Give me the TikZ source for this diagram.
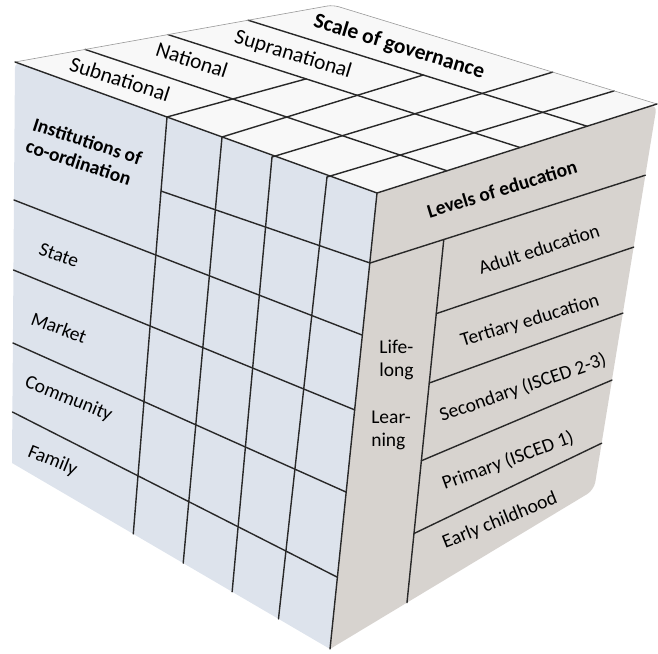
\documentclass[tikz,border=0pt]{standalone}
\usepackage{fontspec}
\setmainfont{Carlito}
\definecolor{frontface}{RGB}{221,227,236}
\definecolor{topface}{RGB}{248,248,248}
\definecolor{sideface}{RGB}{215,211,207}
\definecolor{gridline}{RGB}{40,40,40}
\begin{document}
\begin{tikzpicture}[x=1pt,y=-1pt,
  grid/.style={draw=gridline,line width=1.4pt,line cap=round},
  rim/.style={draw=black!40,line width=0.6pt},
  lab/.style={inner sep=0pt,font=\fontsize{19.5}{23}\selectfont},
  labbf/.style={inner sep=0pt,font=\fontsize{19.5}{23}\selectfont\bfseries},
  toplab/.style={inner sep=0pt,font=\fontsize{21.5}{24}\selectfont},
]
\useasboundingbox (0,0) rectangle (658,653);

% ---- cube corners ----
\coordinate (A) at (15,62);    % front face, top left
\coordinate (B) at (377,193);  % corner shared by the three faces
\coordinate (C) at (657,104);  % right face, top right
\coordinate (D) at (333,5);    % back corner of the top face
\coordinate (E) at (330,649);  % front/right bottom
\coordinate (F) at (12,463);   % front face, bottom left
\coordinate (G) at (594,490);  % right face, bottom right

% ---- faces ----
\fill[frontface] (B) -- (E) -- (F) [rounded corners=6pt] -- (A) [sharp corners] -- cycle;
\fill[sideface] (B) [rounded corners=8pt] -- (C) -- (G) [sharp corners] -- (E) -- cycle;
\fill[topface] (B) -- (A) [rounded corners=6pt] -- (D) -- (C) [sharp corners] -- cycle;

% ---- front face grid: institutions x scale ----
\coordinate (P1) at (167,117); \coordinate (fbA) at (133,537);
\coordinate (P2) at (222,137); \coordinate (fbB) at (183,565);
\coordinate (P3) at (272,157); \coordinate (fbC) at (232,593);
\coordinate (P4) at (327,177); \coordinate (fbD) at (278,623);
\draw[grid] (P1) -- (intersection of P1--fbA and F--E);
\draw[grid] (P2) -- (intersection of P2--fbB and F--E);
\draw[grid] (P3) -- (intersection of P3--fbC and F--E);
\draw[grid] (P4) -- (intersection of P4--fbD and F--E);

\coordinate (lA) at (14,200);   \coordinate (rA) at (362,335);
\coordinate (lB) at (13.5,270); \coordinate (rB) at (355,410);
\coordinate (lC) at (13,343);   \coordinate (rC) at (346,492);
\coordinate (lD) at (12.5,412); \coordinate (rD) at (337,577);
\draw[grid] (intersection of lA--rA and A--F) -- (intersection of lA--rA and B--E);
\draw[grid] (intersection of lB--rB and A--F) -- (intersection of lB--rB and B--E);
\draw[grid] (intersection of lC--rC and A--F) -- (intersection of lC--rC and B--E);
\draw[grid] (intersection of lD--rD and A--F) -- (intersection of lD--rD and B--E);
% split of the top row in the scale columns
\coordinate (mb) at (187,200); \coordinate (rb) at (370,263);
\draw[grid] (intersection of mb--rb and P1--fbA) -- (intersection of mb--rb and B--E);

% ---- top face grid ----
\coordinate (a1) at (85,49.4);  \coordinate (b1) at (447,170.8);
\coordinate (a2) at (168,34.6); \coordinate (b2) at (520,147.5);
\coordinate (a3) at (248,20.2); \coordinate (b3) at (587,126.2);
\draw[grid] (a1) -- (b1);
\draw[grid] (a2) -- (b2);
\draw[grid] (a3) -- (b3);
\coordinate (t1) at (302,80);
\coordinate (t2) at (420,76);
\coordinate (t3) at (553,72);
\coordinate (t4) at (617,90);
\draw[grid] (P1) -- (intersection of P1--t1 and a2--b2);
\draw[grid] (P2) -- (intersection of P2--t2 and a3--b3);
\draw[grid] (P3) -- (intersection of P3--t3 and D--C);
\draw[grid] (P4) -- (intersection of P4--t4 and D--C);

% ---- right face grid: levels of education ----
\coordinate (sa0) at (370,263); \coordinate (sb0) at (646,175);
\coordinate (llA) at (443,247); \coordinate (llB) at (407,602);
\draw[grid] (intersection of sa0--sb0 and B--E) -- (intersection of sa0--sb0 and C--G);
\draw[grid] (intersection of llA--llB and sa0--sb0) -- (intersection of llA--llB and E--G);
\coordinate (saA) at (438,313); \coordinate (sbA) at (634,247);
\coordinate (saB) at (432,382); \coordinate (sbB) at (623,313);
\coordinate (saC) at (423,460); \coordinate (sbC) at (612,380);
\coordinate (saD) at (415,533); \coordinate (sbD) at (602,443);
\draw[grid] (intersection of saA--sbA and llA--llB) -- (intersection of saA--sbA and C--G);
\draw[grid] (intersection of saB--sbB and llA--llB) -- (intersection of saB--sbB and C--G);
\draw[grid] (intersection of saC--sbC and llA--llB) -- (intersection of saC--sbC and C--G);
\draw[grid] (intersection of saD--sbD and llA--llB) -- (intersection of saD--sbD and C--G);

% ---- cube edges ----
\draw[rim] (A) [rounded corners=6pt] -- (D) -- (C);
\draw[grid] (A) -- (B) -- (C);
\draw[grid] (B) -- (E);

% ---- top face labels ----
\node[toplab,rotate=-18] (subn) at (120,79) {Subnational};
\node[toplab,rotate=-18] (natl) at (192,60) {National};
\node[toplab,rotate=-17] (supr) at (293,55) {Supranational};
\node[toplab,font=\fontsize{21.5}{24}\selectfont\bfseries,rotate=-17] (scale) at (399,47) {Scale of governance};

% ---- front face labels ----
\node[labbf,rotate=-18,align=left] (inst) at (84,152) {Institutions of\\co-ordination};
\node[lab,rotate=-19] (state) at (59,255.5) {State};
\node[lab,rotate=-20] (market) at (59,327.5) {Market};
\node[lab,rotate=-22] (comm) at (68.5,399) {Community};
\node[lab,rotate=-22] (family) at (52.5,461) {Family};

% ---- right face labels ----
\node[labbf,rotate=17] (levels) at (502,189) {Levels of education};
\node[lab,rotate=18] (adult) at (539,249) {Adult education};
\node[lab,rotate=17] (tert) at (530,321) {Tertiary education};
\node[lab,rotate=19] (sec) at (523,388) {Secondary (ISCED 2-3)};
\node[lab,rotate=20] (prim) at (508,461) {Primary (ISCED 1)};
\node[lab,rotate=22] (early) at (500,521) {Early childhood};
\node[lab,align=left] (life) at (396.5,360) {Life-\\long};
\node[lab,align=left] (learn) at (391,430) {Lear-\\ning};
\end{tikzpicture}
\end{document}
